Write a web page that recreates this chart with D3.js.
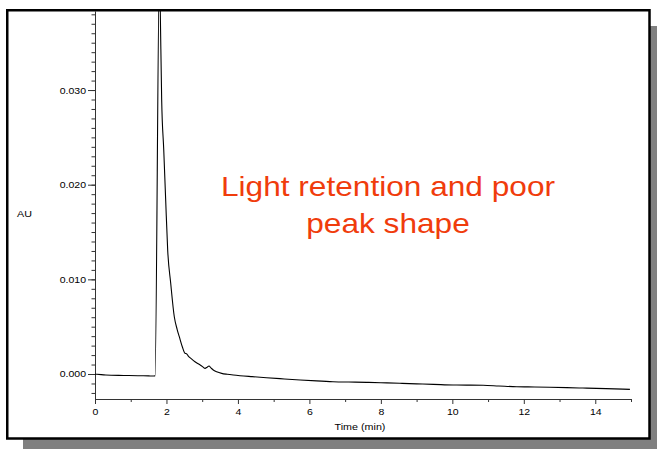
<!DOCTYPE html>
<html>
<head>
<meta charset="utf-8">
<script src="https://cdn.jsdelivr.net/npm/d3@7"></script>
<style>
  html, body { margin: 0; padding: 0; background: #fff; }
  svg { display: block; font-family: "Liberation Sans", Arial, sans-serif; }
</style>
</head>
<body>
<svg id="chart" width="657" height="449"></svg>
<script>
// Chromatogram trace: retention time (min) and detector response (AU)
const times = [0.00, 0.05, 0.30, 0.80, 1.20, 1.50, 1.64, 1.68, 1.805, 1.827, 1.866, 1.924, 1.978, 2.034,
  2.118, 2.219, 2.300, 2.359, 2.443, 2.518, 2.560, 2.611, 2.700, 2.798, 2.900, 2.985, 3.078, 3.140, 3.190,
  3.250, 3.310, 3.405, 3.545, 3.700, 3.870, 4.057, 4.400, 4.800, 5.300, 5.740, 6.200, 6.660, 7.100, 7.600,
  8.000, 8.530, 9.000, 9.470, 10.020, 10.400, 10.860, 11.300, 11.800, 12.300, 12.730, 13.200, 13.650,
  14.300, 14.970];
const absorbance = [-0.00002, -0.00003, -0.00010, -0.00015, -0.00018, -0.00020, -0.00021, -0.00020,
  0.04300, 0.03834, 0.02894, 0.02366, 0.01838, 0.01310, 0.00961, 0.00605, 0.00470, 0.00394, 0.00288,
  0.00219, 0.00215, 0.00190, 0.00160, 0.00130, 0.00105, 0.00085, 0.00060, 0.00072, 0.00085, 0.00062,
  0.00042, 0.00024, 0.00007, -0.00003, -0.00011, -0.00018, -0.00028, -0.00039, -0.00052, -0.00063,
  -0.00073, -0.00081, -0.00085, -0.00088, -0.00092, -0.00098, -0.00104, -0.00109, -0.00116, -0.00117,
  -0.00119, -0.00126, -0.00134, -0.00137, -0.00140, -0.00144, -0.00148, -0.00154, -0.00162];

const xMajorTicks = [0, 2, 4, 6, 8, 10, 12, 14];
const xMinorTicks = [1, 3, 5, 7, 9, 11, 13, 15];
const yMajorTicks = [0.000, 0.010, 0.020, 0.030];
const yMinorTicks = d3.range(-2, 39).map(i => i / 1000);

const yTitle = "AU";
const xTitle = "Time (min)";
const annotation = ["Light retention and poor", "peak shape"];

const svg = d3.select("#chart");
const sx = 1.13; // horizontal text stretch

// Frame with drop shadow
svg.append("rect").attr("x", 23).attr("y", 26).attr("width", 660).attr("height", 440).attr("fill", "#808080");
svg.append("rect").attr("x", 7.25).attr("y", 10.25).attr("width", 642.25).attr("height", 428.25)
  .attr("fill", "#fff").attr("stroke", "#000").attr("stroke-width", 2.5);

const x = d3.scaleLinear().domain([0, 15]).range([95, 631]);
const y = d3.scaleLinear().domain([-0.00264, 0.03835]).range([399, 11]);

// Y axis: minor then major ticks
const yMinor = svg.append("g").attr("transform", "translate(95,0)")
  .call(d3.axisLeft(y).tickValues(yMinorTicks).tickSizeInner(3.5).tickSizeOuter(0).tickFormat(""));
yMinor.selectAll(".tick line").attr("x2", -3.5).attr("x1", 1);
const yMajor = svg.append("g").attr("transform", "translate(95,0)")
  .call(d3.axisLeft(y).tickValues(yMajorTicks).tickSizeInner(7).tickSizeOuter(0).tickPadding(2)
    .tickFormat(d3.format(".3f")));

// X axis: minor then major ticks
const xMinor = svg.append("g").attr("transform", "translate(0,399)")
  .call(d3.axisBottom(x).tickValues(xMinorTicks).tickSizeInner(3).tickSizeOuter(0).tickFormat(""));
const xMajor = svg.append("g").attr("transform", "translate(0,399)")
  .call(d3.axisBottom(x).tickValues(xMajorTicks).tickSizeInner(5).tickSizeOuter(0).tickPadding(4.5)
    .tickFormat(d3.format("d")));

svg.selectAll(".domain, .tick line").attr("stroke", "#333").attr("stroke-width", 1);
svg.selectAll(".tick text").attr("fill", "#000").attr("font-size", 9.3)
  .attr("font-family", "Liberation Sans, Arial, sans-serif");
yMajor.selectAll(".tick text").attr("x", -9 / sx).attr("transform", `scale(${sx},1)`);
xMajor.selectAll(".tick text").attr("transform", `scale(${sx},1)`);

// Axis titles
svg.append("text").attr("transform", `translate(17,217) scale(${sx},1)`)
  .attr("font-size", 9.5).text(yTitle);
svg.append("text").attr("transform", `translate(360,429.5) scale(${sx},1)`)
  .attr("text-anchor", "middle").attr("font-size", 9.5).text(xTitle);

// Trace, clipped to the plotting area
svg.append("clipPath").attr("id", "plot-clip").append("rect")
  .attr("x", 95).attr("y", 11).attr("width", 554).attr("height", 388);
const line = d3.line().curve(d3.curveMonotoneX).x((d, i) => x(times[i])).y(d => y(d));
svg.append("path").datum(absorbance).attr("clip-path", "url(#plot-clip)")
  .attr("fill", "none").attr("stroke", "#000").attr("stroke-width", 1.1)
  .attr("stroke-linejoin", "round").attr("d", line);

// Annotation
const note = svg.append("g").attr("fill", "#f03c0c").attr("font-size", 28);
annotation.forEach((t, i) => {
  note.append("text").attr("transform", `translate(388,${196 + i * 37}) scale(${sx},1)`)
    .attr("text-anchor", "middle").text(t);
});
</script>
</body>
</html>
